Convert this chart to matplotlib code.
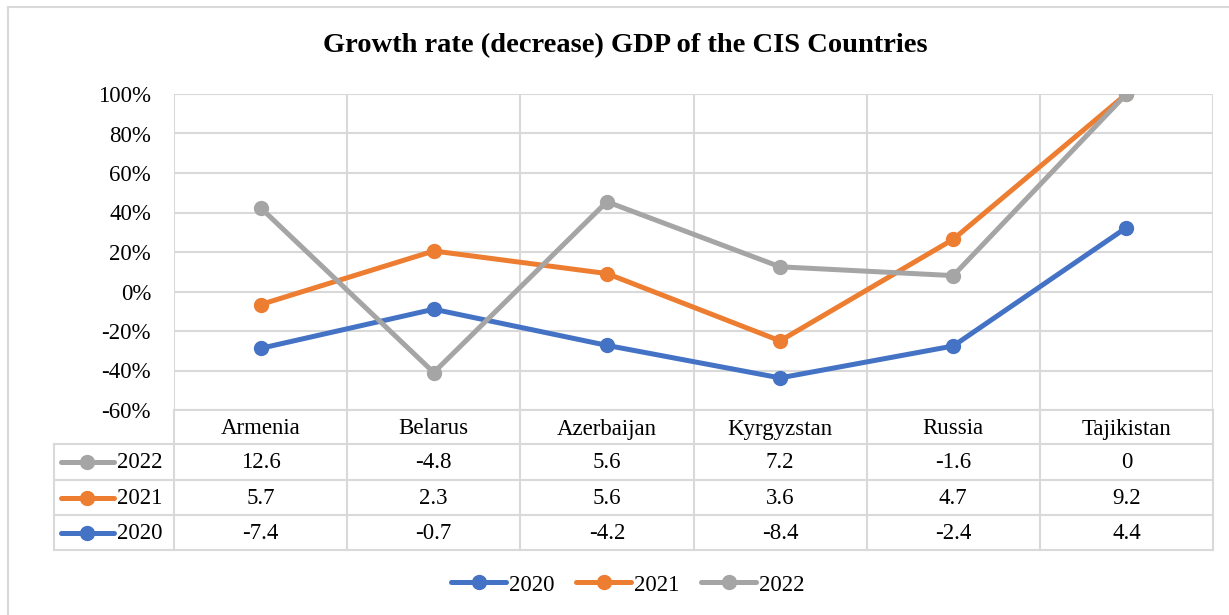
import matplotlib.pyplot as plt
import numpy as np
from matplotlib.ticker import PercentFormatter

plt.rcParams['font.family'] = ['Liberation Serif', 'DejaVu Serif']
plt.rcParams['axes.unicode_minus'] = False

# Data: GDP growth rate (decrease), %
countries = ['Armenia', 'Belarus', 'Azerbaijan', 'Kyrgyzstan', 'Russia', 'Tajikistan']
years = ['2020', '2021', '2022']
gdp_2020 = [-7.4, -0.7, -4.2, -8.4, -2.4, 4.4]
gdp_2021 = [5.7, 2.3, 5.6, 3.6, 4.7, 9.2]
gdp_2022 = [12.6, -4.8, 5.6, 7.2, -1.6, 0]
colors = ['#4472C4', '#ED7D31', '#A5A5A5']

series = np.array([gdp_2020, gdp_2021, gdp_2022])
# Excel "100% stacked line": cumulative sum divided by sum of absolute values
stacked = np.cumsum(series, axis=0) / np.abs(series).sum(axis=0)

W, H = 1229, 615
fig = plt.figure(figsize=(W / 100, H / 100), dpi=100)

# overlay in pixel coordinates for table, borders, title
ov = fig.add_axes([0, 0, 1, 1])
ov.set_xlim(0, W)
ov.set_ylim(H, 0)
ov.axis('off')

fs = 16.5

# plot area
left, right, top, bottom = 174, 1213, 94, 410
ax = fig.add_axes([left / W, 1 - bottom / H, (right - left) / W, (bottom - top) / H])
x = np.arange(len(countries))
for i in range(len(years)):
    ax.plot(x, stacked[i], color=colors[i], lw=3.6, marker='o', ms=10,
            solid_capstyle='round', zorder=3 + i, label=years[i])
ax.set_xlim(-0.5, len(countries) - 0.5)
ax.set_ylim(-0.6, 1.0)
ax.set_yticks(np.arange(-0.6, 1.01, 0.2))
ax.yaxis.set_major_formatter(PercentFormatter(1.0, decimals=0))
ax.set_xticks(np.arange(-0.5, len(countries)))
ax.set_xticklabels([])
ax.tick_params(axis='both', length=0, labelsize=fs, pad=16.5)
ax.grid(True, color='#D9D9D9', lw=1.5)
ax.set_axisbelow(True)
for s in ax.spines.values():
    s.set_visible(False)
ax.patch.set_alpha(0)

# chart border (top and left visible)
ov.plot([8, W], [7, 7], color='#D9D9D9', lw=1.5)
ov.plot([8, 8], [7, H], color='#D9D9D9', lw=1.5)

# title
ov.text(625, 46, 'Growth rate (decrease) GDP of the CIS Countries',
        ha='center', va='center', fontsize=20.5, fontweight='bold')

# data table
grid_c = '#D9D9D9'
cw = (right - left) / len(countries)
rows_y = [410, 444, 480, 515, 550]
tab_left = 54
for k in range(len(countries) + 1):
    xx = left + k * cw
    ov.plot([xx, xx], [410, 550], color=grid_c, lw=1.5)
ov.plot([tab_left, tab_left], [444, 550], color=grid_c, lw=1.5)
ov.plot([left, right], [410, 410], color=grid_c, lw=1.5)
for yy in rows_y[1:]:
    ov.plot([tab_left, right], [yy, yy], color=grid_c, lw=1.5)

for j, c in enumerate(countries):
    ov.text(left + (j + 0.5) * cw, 429, c, ha='center', va='center', fontsize=fs)

table_order = [2, 1, 0]  # 2022, 2021, 2020 rows
for r, si in enumerate(table_order):
    yc = (rows_y[r + 1] + rows_y[r + 2]) / 2
    ov.plot([61, 114], [yc, yc], color=colors[si], lw=3.6, solid_capstyle='round')
    ov.plot([87], [yc], marker='o', ms=10, color=colors[si])
    ov.text(117, yc + 1, years[si], ha='left', va='center', fontsize=fs)
    for j in range(len(countries)):
        ov.text(left + (j + 0.5) * cw, yc + 1, '%g' % series[si][j],
                ha='center', va='center', fontsize=fs)

# legend at bottom
handles, labels = ax.get_legend_handles_labels()
fig.legend(handles, labels, loc='center', bbox_to_anchor=(628 / W, 1 - 585 / H),
           ncol=3, frameon=False, fontsize=fs, handlelength=2.4,
           handletextpad=0.12, columnspacing=0.95)

fig.savefig('out.png', dpi=100)
